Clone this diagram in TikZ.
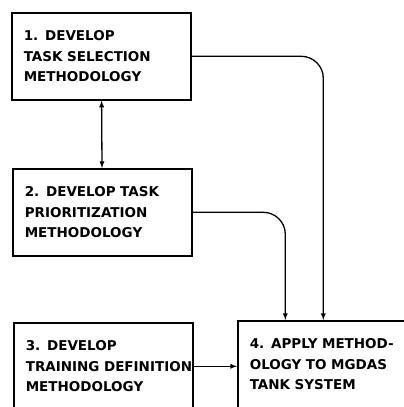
\documentclass[tikz,border=0pt]{standalone}
\usepackage{fontspec}
\newfontfamily\boxfont{DejaVu Sans}
\usetikzlibrary{arrows}

\tikzset{
  taskbox/.style={draw,line width=1.6pt,anchor=north west,
    minimum width=179pt,minimum height=87pt,inner xsep=12pt,
    text width=155pt,align=left,
    font=\boxfont\bfseries\fontsize{13.5}{20.5}\selectfont},
  flow/.style={line width=1.3pt,rounded corners=22pt}
}

\begin{document}
\begin{tikzpicture}[x=1pt,y=-1pt,line cap=round]
  \useasboundingbox (0,0) rectangle (404,407);

  \node[taskbox] (select) at (11,12)
    {1. DEVELOP\\TASK SELECTION\\METHODOLOGY};
  \node[taskbox] (prior) at (12,168)
    {2. DEVELOP TASK\\PRIORITIZATION\\METHODOLOGY};
  \node[taskbox] (train) at (13,322)
    {3. DEVELOP\\\mbox{TRAINING DEFINITION}\\METHODOLOGY};
  \node[taskbox] (apply) at (237,320)
    {4. APPLY METHOD-\\OLOGY TO MGDAS\\TANK SYSTEM};

  \draw[flow,latex-latex] (select) -- (prior);
  \draw[flow,-latex] (select.east) -| ([xshift=-4pt]apply.north);
  \draw[flow,-latex] (prior.east) -| ([xshift=-42pt]apply.north);
  \draw[flow,-latex] (train.east) -- (train.east -| apply.west);
\end{tikzpicture}
\end{document}
